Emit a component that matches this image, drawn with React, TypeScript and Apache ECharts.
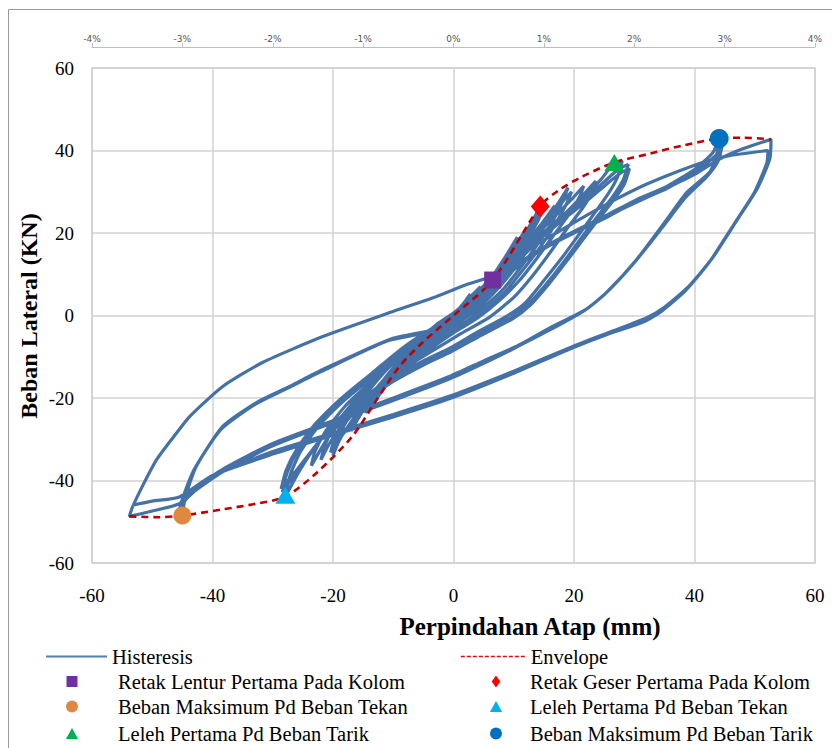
import React, { useEffect, useRef } from "react";
import * as echarts from "echarts";

// ---- axis ticks ----
const xTicks = { min: -60, max: 60, interval: 20 };
const yTicks = { min: -60, max: 60, interval: 20 };
const driftTicks = { min: -4, max: 4, interval: 1 };

// ---- hysteresis loops (displacement mm, load kN) ----
const loopA1 = [[0,0],[1,1.8],[2,3.6],[2.8,5.2],[2.3,4.2],[1.2,2],[0,0.2],[-1,-1.8],[-2,-3.6],[-2.8,-5],[-2.3,-4],[-1.2,-2],[0,-0.2]];
const loopA2 = [[1.5,2.4],[3,4.8],[4.5,7],[3.8,5.6],[2.5,3],[1,0.6],[-1,-2.2],[-2.5,-4.4],[-4.5,-7.2],[-3.9,-5.8],[-2.5,-3.2],[-1,-0.8],[0.2,0.8]];
const loopA3 = [[2,3],[4,5.8],[6.5,8.7],[6,7.4],[4.6,4.6],[3,1.6],[1.4,-1],[-1,-3.4],[-3.5,-5.6],[-6.2,-8.4],[-5.6,-7],[-4,-4.6],[-2,-2],[0.2,0.8]];
const loopA4 = [[2,3],[4.5,6.4],[7,10],[8.2,12.6],[7.6,10.8],[6.2,7.6],[4.2,4],[2.2,0.8],[0,-1.8],[-2.6,-4.4],[-5.4,-7.2],[-8,-11],[-7.4,-9.2],[-5.8,-6.6],[-3.4,-3.4],[-1,-0.6],[1,1.6]];
const loopB1 = [[3,4.5],[6,8.6],[8.5,14],[10.6,19],[9.9,16.8],[8.4,12.8],[6.4,8.4],[4,4],[1.4,0],[-1,-3],[-4,-6],[-7,-9.6],[-10.2,-14.6],[-9.6,-12.2],[-8,-9],[-5,-5],[-2,-1.5],[1,1.5]];
const loopB4 = [[3,4.2],[6,8.4],[9,14],[11.6,20],[11,17.6],[9.4,13.6],[7.2,9],[4.6,4.4],[2,0.4],[-1,-3.2],[-4,-6.6],[-7.5,-10.6],[-11,-16],[-12,-18.6],[-11.4,-16],[-9.6,-12.6],[-6.6,-7.6],[-3.4,-3.2],[0,0.6]];
const loopB5 = [[3.5,4.8],[6.8,9.6],[9.6,15],[12,20.4],[11.3,18],[9.6,14],[7.4,9.4],[4.8,4.8],[2.2,0.8],[-0.8,-2.8],[-3.8,-6.2],[-7.2,-10.2],[-10.6,-15.4],[-12.4,-19],[-11.8,-16.4],[-10,-13],[-7,-8],[-3.6,-3.4],[0,0.4]];
const loopB2 = [[4,5.6],[7,10.6],[10,16],[12.5,21.4],[14.4,26.4],[13.8,23.8],[12.4,19.8],[10.4,15.2],[8,10.2],[5,5],[2,0.4],[-1,-3.6],[-4,-7],[-7.5,-11],[-11,-16.6],[-14.2,-23.2],[-13.6,-20.4],[-12,-16.4],[-9,-11],[-6,-6.4],[-3,-2.4],[0,0.6]];
const loopB3 = [[4,5.4],[8,11.4],[11.5,18],[13.8,23],[14.6,25],[13.9,22.6],[12.2,18.6],[10,14],[7.5,9],[4.5,4],[1.5,-0.4],[-1.5,-4],[-5,-7.8],[-8.5,-12],[-12,-17.6],[-14.6,-23.6],[-14,-21],[-12.2,-17],[-9.2,-11.4],[-6,-6.6],[-3,-2.6],[0,0.4]];
const loopC3 = [[4,5.6],[8,11.2],[11.5,17],[14.5,22],[16.8,26.6],[16.2,24.6],[14.6,20.6],[12.2,15.6],[9.4,10],[6.4,5],[3.4,1],[0,-2.8],[-4,-7],[-8,-11.6],[-12,-17.4],[-15,-23],[-17,-28],[-16.4,-25.4],[-14.6,-21],[-11.6,-15.6],[-8,-10],[-4,-4.6],[0,0.2]];
const loopC1 = [[4,5.5],[8,11],[12,17.5],[15,22.5],[17.5,27.5],[19,31],[18.2,28],[16.5,23],[14,17.4],[11,11.4],[8,6],[5,2],[2,-1.6],[-2,-5],[-6,-9],[-10,-14],[-14,-20],[-17,-25.8],[-19,-30.4],[-20,-34],[-19.3,-30],[-17.5,-25],[-14.5,-19],[-11,-13],[-7,-7.4],[-3,-3],[1,1]];
const loopC2 = [[5,6.4],[9,12.4],[12.5,18],[15.5,23],[18,27.4],[19.6,30],[18.8,27.2],[17,22.4],[14.5,16.8],[11.5,11],[8.5,5.6],[5.5,1.6],[2.5,-2],[-1.5,-5.4],[-5.5,-9.4],[-9.5,-14.4],[-13.5,-20.4],[-16.8,-26],[-19,-30],[-20.4,-33.2],[-19.6,-29.2],[-17.8,-24.4],[-14.8,-18.6],[-11.2,-12.8],[-7.2,-7.2],[-3,-2.8],[1,1.2]];
const loopC4 = [[5,6.6],[9,12.2],[13,18.4],[16.5,23.6],[19.5,28],[21.6,31.4],[21,29],[19.4,25],[17,20.2],[14,14.2],[11,8.6],[7.6,3.6],[4,-0.6],[0,-4.2],[-4.4,-8.6],[-9,-13.4],[-13.6,-19.2],[-17.4,-25],[-20.4,-30.6],[-22,-35],[-21.4,-31.6],[-19.6,-26.6],[-16.4,-20.6],[-12.4,-14.8],[-8,-9],[-3.6,-4],[1,0.8]];
const loopD4 = [[5,6.2],[10,13],[14,18.8],[18,24],[21,28.4],[23.6,32.6],[23,29.8],[21.4,26],[19,21.4],[16,15.2],[13,9.4],[10,4.4],[6,-0.4],[1,-4.6],[-4,-9],[-9,-13.6],[-14,-19],[-18,-24.6],[-21,-30],[-23.6,-36.4],[-23,-33],[-21.2,-28],[-18,-22],[-13.6,-16],[-9,-10.4],[-4,-5],[1,0.6]];
const loopD1 = [[5,6],[10,13],[14,19],[18,24],[21.5,28.5],[24.5,33],[26.7,37.1],[28,37.4],[27.2,33.5],[25.8,29.8],[23.5,25],[21,20],[18,14],[15,8.5],[12,3.2],[9,0],[4,-4],[-0.7,-8],[-5,-11],[-10,-15],[-15,-20],[-19,-25],[-22.5,-31],[-25.5,-37.5],[-27.9,-43.9],[-27.1,-38.6],[-25.4,-33],[-22.5,-27],[-18,-20.4],[-13,-14.4],[-8,-8.4],[-3,-3.4],[1,0.6]];
const loopD2 = [[5,5.8],[10,12.6],[14,18.4],[18,23.4],[21.5,27.8],[25,32.4],[27.5,35.6],[29,36.6],[28.2,33],[26.6,29.2],[24.2,24.6],[21.6,19.6],[18.6,13.6],[15.6,8],[12.6,3],[9.6,-0.4],[4.5,-4.4],[-0.5,-8.4],[-5,-11.6],[-10,-15.6],[-15,-20.6],[-19.2,-25.6],[-22.8,-31.4],[-25.8,-37.4],[-28.4,-42.8],[-27.6,-38],[-25.8,-32.6],[-22.8,-26.6],[-18.2,-20],[-13.2,-14],[-8.2,-8],[-3.2,-3.2],[1,0.6]];
const loopD3 = [[5,5.6],[10,12.2],[14,18],[18,23],[21.8,27.4],[25.2,31.6],[27.8,34.6],[29.2,35.6],[28.4,32],[26.8,28.4],[24.4,24],[21.8,19],[18.8,13.2],[15.8,7.6],[12.8,2.6],[9.8,-0.8],[4.6,-4.8],[-0.4,-8.8],[-5,-12],[-10,-16],[-15,-21],[-19.4,-26],[-23,-31.8],[-26,-37.4],[-28.6,-42],[-27.8,-37.6],[-26,-32.4],[-23,-26.4],[-18.4,-19.8],[-13.4,-13.8],[-8.4,-7.8],[-3.4,-3],[1,0.5]];
const loopE1 = [[4,4],[7.6,8.4],[12,13.6],[16,17.2],[20,20.4],[25,24],[30,27.8],[35.4,31.3],[40,35.4],[43,39.4],[44.1,42.9],[43.6,38.4],[42.5,34.7],[38.7,29.8],[35.4,23.3],[30.4,13.6],[25.4,5.6],[22,1.5],[16,-3],[10.4,-7.5],[5,-11],[-0.7,-14.8],[-10,-20],[-20,-25.5],[-30,-31],[-38,-37],[-43,-42],[-45,-45],[-45,-48.5],[-44.5,-44],[-42.7,-36.6],[-38.3,-26.9],[-32.7,-21.1],[-27.2,-17.2],[-21.7,-13.1],[-10.6,-5.8],[-3.5,-3.5],[0.5,-1],[4,3]];
const loopE2 = [[7.6,8],[12,13.4],[16,17],[20,20],[25,23.5],[30,27.4],[35.4,30.8],[40,34.8],[43.4,38.6],[44.6,41.2],[43.9,37.4],[42,33.6],[38.5,28.6],[35,22],[30,12.8],[25,5],[21.5,1],[16,-3.5],[10,-8],[5,-11.6],[-0.7,-15.4],[-10,-20.6],[-20,-26],[-30,-31.6],[-38,-37.6],[-43,-42.6],[-45.2,-46],[-45.6,-47.6],[-44.9,-44],[-43,-37.2],[-38.6,-27.6],[-33,-21.6],[-27.5,-17.6],[-22,-13.6],[-11,-6.2],[-4,-4],[0,-1.5],[4,2.6]];
const loopF1 = [[7.6,8],[12,13.8],[16,17.4],[20,20.4],[25,23.8],[30,27.2],[35,30.6],[40,34.2],[44,37.8],[48,40.4],[52.7,42.7],[52.5,38],[50.5,31],[47,23],[43,14],[39,7],[35,2],[32,-0.6],[26,-4],[19.8,-7.5],[10,-13.5],[-0.7,-19.6],[-10,-24],[-20,-28.5],[-30,-33],[-40,-39],[-45.5,-45.6],[-50,-47.4],[-53.8,-48.7],[-53.3,-46.5],[-51.5,-41],[-49.3,-35],[-46.5,-29.5],[-43.8,-24.5],[-38.3,-17.2],[-31.7,-11.4],[-21.7,-5.1],[-10.6,0.7],[-3,4.5],[2.2,7.5],[6.5,9.6]];
const loopF2 = [[10,13.4],[14,17.4],[18,20.8],[22,24.2],[27,28.2],[32,31.8],[37,34.8],[42,37.4],[46,38.8],[52.2,40],[52,37],[50,30],[46.5,22],[42.5,13],[38.5,6],[34.5,1],[31.5,-1.6],[25.5,-4.6],[19.5,-8],[10,-14],[-0.7,-20.2],[-10,-24.6],[-20,-29],[-30,-33.6],[-40,-38.8],[-45.5,-44],[-50,-45],[-53.3,-46]];

const hysteresis = [
  ...loopA1, ...loopA2, ...loopA3, ...loopA4, ...loopB1, ...loopB4, ...loopB5, ...loopB2, ...loopB3,
  ...loopC3, ...loopC1, ...loopC2, ...loopC4, ...loopD4, ...loopD1, ...loopD2, ...loopD3,
  ...loopE1, ...loopE2, ...loopF1, ...loopF2,
];

// ---- envelope ----
const envelope = [[-53.8,-48.7],[-49,-48.9],[-45,-48.5],[-38.3,-47],[-32.7,-45.6],[-27.9,-43.9],[-22.7,-38.1],[-16.8,-29.3],[-13,-21],[-9,-12.4],[-5.1,-6.5],[0,0],[6.5,8.6],[14.4,26.5],[17.6,30.5],[21.4,33.7],[26.7,37.1],[32.5,39.2],[38,41.2],[44.1,42.9],[48,43.1],[52.7,42.7]];

// ---- key points ----
const retakLentur = [[6.5, 8.6]];
const retakGeser = [[14.4, 26.4]];
const bebanMaksTekan = [[-45, -48.5]];
const lelehTekan = [[-27.9, -43.6]];
const lelehTarik = [[26.7, 37.1]];
const bebanMaksTarik = [[44.1, 42.9]];

const NAMES = {
  hys: "Histeresis",
  env: "Envelope",
  rl: "Retak Lentur Pertama Pada Kolom",
  rg: "Retak Geser Pertama Pada Kolom",
  bmTekan: "Beban Maksimum Pd Beban Tekan",
  lTekan: "Leleh Pertama Pd Beban Tekan",
  lTarik: "Leleh Pertama Pd Beban Tarik",
  bmTarik: "Beban Maksimum Pd Beban Tarik",
};

const SERIF = "'Liberation Serif', 'Times New Roman', serif";
const ICON_RECT = "path://M0,0H10V10H0Z";
const ICON_DIAMOND = "path://M5,0L10,7L5,14L0,7Z";
const ICON_TRI = "path://M5,0L10,9L0,9Z";
const ICON_CIRCLE = "path://M5,0A5,5,0,1,1,5,10A5,5,0,1,1,5,0Z";

export default function App() {
  const ref = useRef<HTMLDivElement>(null);
  useEffect(() => {
    if (!ref.current) return;
    const chart = echarts.init(ref.current, null, { renderer: "svg" });
    const gridLine = { lineStyle: { color: "#d2d2d2", width: 1.5 } };
    const legendText = { fontFamily: SERIF, fontSize: 20.5, color: "#000" };
    const scatter = (name: string, data: number[][], symbol: string, size: any, color: string) => ({
      name, type: "scatter", data, symbol, symbolSize: size, z: 5,
      itemStyle: { color, opacity: 1 },
    });
    // marker legend: icon centred at cx, text starting at tx (icon box shrinks to icon width iw)
    const legMarker = (name: string, cx: number, tx: number, top: number, h: number, iw: number, icon: string) => ({
      orient: "horizontal", left: cx - iw / 2, top, itemWidth: 2 * (tx - 5 - cx), itemHeight: h, padding: 0,
      selectedMode: false, symbolKeepAspect: true, textStyle: legendText,
      data: [{ name, icon }],
    });
    const legLine = (name: string, left: number, top: number, w: number, lineStyle: any) => ({
      orient: "horizontal", left, top, itemWidth: w, itemHeight: 12, padding: 0,
      selectedMode: false, textStyle: legendText, lineStyle,
      data: [{ name, itemStyle: { opacity: 0 } }],
    });
    const rows = [646, 671, 696, 723];
    chart.setOption({
      animation: false,
      backgroundColor: "#fff",
      grid: { left: 92, right: 17, top: 68, bottom: 185, show: true, borderColor: "#c8c8c8", borderWidth: 1.5 },
      xAxis: [
        {
          type: "value", position: "bottom", ...xTicks,
          axisLine: { show: false }, axisTick: { show: false },
          splitLine: { show: true, ...gridLine },
          axisLabel: { fontFamily: SERIF, fontSize: 19, color: "#000", margin: 23 },
        },
        {
          type: "value", position: "top", offset: 21, ...driftTicks,
          axisLine: { show: true, onZero: false, lineStyle: { color: "#bdbdbd", width: 1 } },
          axisTick: { show: true, length: 4, lineStyle: { color: "#bdbdbd" } },
          splitLine: { show: false },
          axisLabel: { formatter: "{value}%", fontFamily: "'DejaVu Sans', sans-serif", fontSize: 9, color: "#555", margin: 4 },
        },
      ],
      yAxis: {
        type: "value", ...yTicks,
        axisLine: { show: false }, axisTick: { show: false },
        splitLine: { show: true, ...gridLine },
        axisLabel: { fontFamily: SERIF, fontSize: 19, color: "#000", margin: 18 },
      },
      legend: [
        legLine(NAMES.hys, 45, rows[0], 61, { width: 2, color: "#4f7fb8" }),
        legMarker(NAMES.rl, 72, 118, rows[1], 11, 11, ICON_RECT),
        legMarker(NAMES.bmTekan, 72, 118, rows[2], 12, 12, ICON_CIRCLE),
        legMarker(NAMES.lTarik, 72, 118, rows[3], 11, 12.2, ICON_TRI),
        legLine(NAMES.env, 460, rows[0], 65, { width: 1.6, type: [4, 2], color: "#d01010" }),
        legMarker(NAMES.rg, 496, 530, rows[1], 12, 8.6, ICON_DIAMOND),
        legMarker(NAMES.lTekan, 496, 530, rows[2], 11, 12.2, ICON_TRI),
        legMarker(NAMES.bmTarik, 496, 530, rows[3], 12, 12, ICON_CIRCLE),
      ],
      graphic: [
        { type: "rect", silent: true, shape: { x: 8.5, y: 9.5, width: 1000, height: 1000 }, style: { fill: "none", stroke: "#9a9a9a", lineWidth: 1 } },
        { type: "text", x: 530, y: 626, style: { text: "Perpindahan Atap (mm)", font: `bold 25px ${SERIF}`, fill: "#000", textAlign: "center", textVerticalAlign: "middle" } },
        { type: "text", x: 29, y: 316, rotation: Math.PI / 2, style: { text: "Beban Lateral (KN)", font: `bold 24px ${SERIF}`, fill: "#000", textAlign: "center", textVerticalAlign: "middle" } },
      ],
      series: [
        {
          name: NAMES.hys, type: "line", data: hysteresis, symbol: "none", showSymbol: false, z: 2, smooth: 0.2,
          lineStyle: { color: "#4471a7", width: 3.2 }, itemStyle: { color: "#4471a7" },
        },
        {
          name: NAMES.env, type: "line", data: envelope, symbol: "none", showSymbol: false, z: 3, smooth: 0.3,
          lineStyle: { color: "#c00000", width: 2.6, type: [7, 5] }, itemStyle: { color: "#c00000" },
        },
        scatter(NAMES.rl, retakLentur, "rect", 17, "#7030a0"),
        scatter(NAMES.rg, retakGeser, "diamond", [19, 22], "#ff0000"),
        scatter(NAMES.bmTekan, bebanMaksTekan, "circle", 18, "#e0883e"),
        scatter(NAMES.lTekan, lelehTekan, "triangle", [20, 17], "#00b0f0"),
        scatter(NAMES.lTarik, lelehTarik, "triangle", [20, 17], "#00b050"),
        scatter(NAMES.bmTarik, bebanMaksTarik, "circle", 19, "#0070c0"),
      ],
    });
    return () => chart.dispose();
  }, []);
  return <div ref={ref} style={{ position: "fixed", left: 0, top: 0, width: 832, height: 748, background: "#fff" }} />;
}
